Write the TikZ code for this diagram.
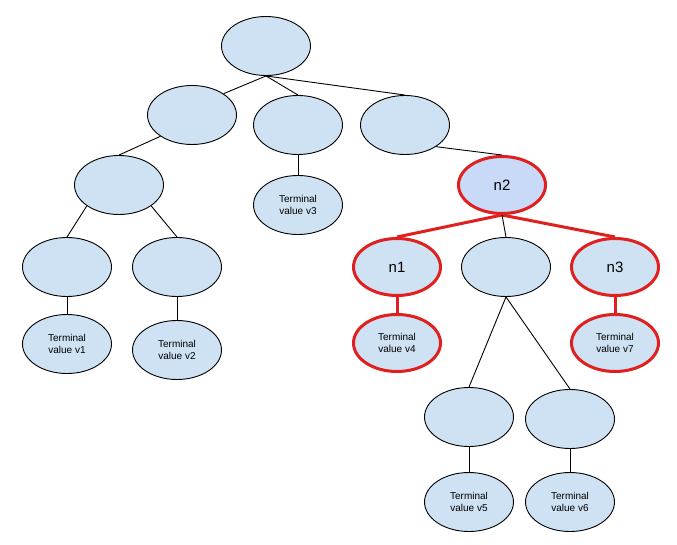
\documentclass[tikz,border=0pt]{standalone}
\usepackage{fontspec}
\setmainfont{Liberation Sans}
\usetikzlibrary{shapes.geometric}
\definecolor{nodefill}{HTML}{CFE2F3}
\definecolor{pathfill}{HTML}{C9DAF8}
\definecolor{pathred}{HTML}{E0201F}

\begin{document}
\begin{tikzpicture}[x=1pt, y=-1pt,
  vert/.style={ellipse, draw, line width=0.9pt, fill=nodefill,
               minimum width=89pt, minimum height=59pt, inner sep=0pt,
               font=\fontsize{15}{18}\selectfont},
  term/.style={vert, align=center, font=\fontsize{10}{12.5}\selectfont},
  hot/.style={draw=pathred, line width=3pt,
              minimum width=87pt, minimum height=57pt},
  link/.style={line width=0.9pt},
  hotlink/.style={draw=pathred, line width=3pt}]
\useasboundingbox (0,0) rectangle (677,545);
\node[vert] (root) at (266,46) {};
\node[vert] (l1a) at (192,115) {};
\node[vert] (l1b) at (298,125) {};
\node[vert] (l1c) at (405,125) {};
\node[vert] (l2)  at (119,185) {};
\node[vert] (l3a) at (67,267)  {};
\node[vert] (l3b) at (177,267) {};
\node[term] (v1)  at (67,344)  {Terminal\\value v1};
\node[term] (v2)  at (177,350) {Terminal\\value v2};
\node[term] (v3)  at (298,205) {Terminal\\value v3};
\node[vert, hot, fill=pathfill] (n2) at (502,185) {n2};
\node[vert, hot] (n1)  at (397,267) {n1};
\node[vert]      (mid) at (506,267) {};
\node[vert, hot] (n3)  at (615,267) {n3};
\node[term, hot] (v4)  at (397,343) {Terminal\\value v4};
\node[term, hot] (v7)  at (615,343) {Terminal\\value v7};
\node[vert] (l4a) at (469,417) {};
\node[vert] (l4b) at (570,419) {};
\node[term] (v5)  at (469,502) {Terminal\\value v5};
\node[term] (v6)  at (570,502) {Terminal\\value v6};
\draw[link] (root.south) -- (l1a.34);
\draw[link] (root.south) -- (l1b.north);
\draw[link] (root.south) -- (l1c.north);
\draw[link] (l1a.214) -- (l2.north);
\draw[link] (l2.213) -- (l3a.north);
\draw[link] (l2.-33) -- (l3b.north);
\draw[link] (l3a) -- (v1);  \draw[link] (l3b) -- (v2);
\draw[link] (l1b) -- (v3);
\draw[link] (l1c.-35) -- (n2.north);
\draw[hotlink] (n2.south) -- (n1.north);
\draw[hotlink] (n2.south) -- (n3.north);
\draw[link] (n2.south) -- (mid.north);
\draw[hotlink] (n1) -- (v4);  \draw[hotlink] (n3) -- (v7);
\draw[link] (mid.south) -- (l4a.north);
\draw[link] (mid.south) -- (l4b.north);
\draw[link] (l4a) -- (v5);  \draw[link] (l4b) -- (v6);
\end{tikzpicture}
\end{document}
